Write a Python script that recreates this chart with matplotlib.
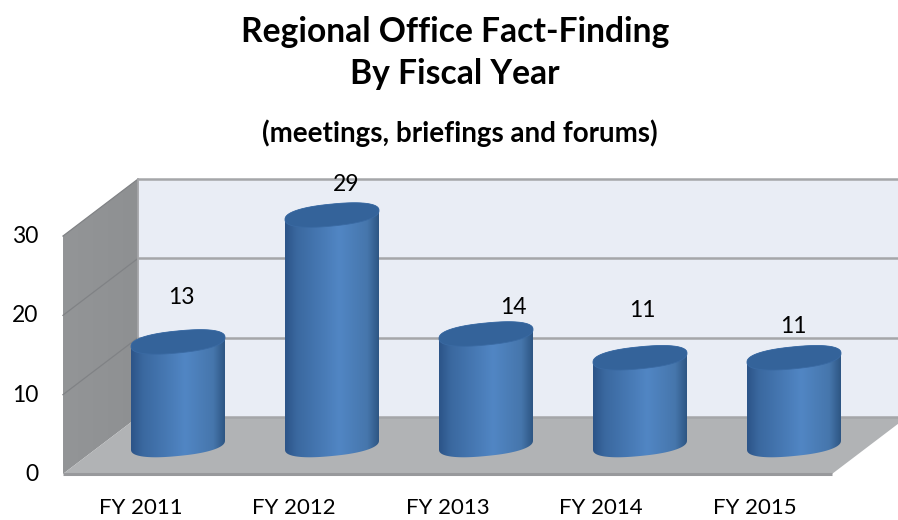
import numpy as np
import matplotlib
matplotlib.use("Agg")
import matplotlib.pyplot as plt
from matplotlib.colors import LinearSegmentedColormap
from matplotlib.patches import Polygon

plt.rcParams['font.family'] = ['Lato', 'DejaVu Sans']

# datos
years = ["FY 2011", "FY 2012", "FY 2013", "FY 2014", "FY 2015"]
values = [13, 29, 14, 11, 11]
ticks = [0, 10, 20, 30]

# ajuste a mano de cada etiqueta (pixeles desde el centro de la tapa)
label_dx = [3, 14, 27, 2, -1]
label_dy = [44, 31, 26, 47, 31]

W, H = 898, 520
PX_X = 154.0   # pixeles por categoria
PX_Y = 7.93    # pixeles por unidad

fig = plt.figure(figsize=(W / 100, H / 100), dpi=100)
ax = fig.add_axes([0, 0, 1, 1])
ax.axis('off')


# pasar pixeles de la imagen a unidades de los ejes
def px(x):
    return (x - 178) / PX_X


def py(y):
    return (445 - y) / PX_Y


# elipse un poco cuadrada, como las tapas del original
def round_cos(t):
    return np.sign(np.cos(t)) * np.abs(np.cos(t)) ** 0.85


def round_sin(t):
    return np.sign(np.sin(t)) * np.abs(np.sin(t)) ** 0.85


# caja 3d falsa, en unidades de los ejes
front_y = -3.65
back_y = 3.53
left_x = -0.747
right_x = 4.247
depth_x = 75 / PX_X
top = max(ticks)

# pared del fondo
ax.add_patch(Polygon([(left_x + depth_x, back_y), (right_x + depth_x, back_y),
                      (right_x + depth_x, back_y + top), (left_x + depth_x, back_y + top)],
                     fc='#E9EDF5', ec='none', zorder=1))

# pared izquierda con degradado
grey = LinearSegmentedColormap.from_list('grey', ['#939597', '#8E9092'])
im = ax.imshow(np.linspace(0, 1, 64).reshape(1, -1), cmap=grey, aspect='auto', zorder=2,
               extent=(left_x, left_x + depth_x, front_y, back_y + top))
wall = Polygon([(left_x, front_y), (left_x + depth_x, back_y), (left_x + depth_x, back_y + top),
                (left_x, front_y + top)], fc='none', ec='none', zorder=2)
ax.add_patch(wall)
im.set_clip_path(wall)

# piso
ax.add_patch(Polygon([(left_x, front_y), (left_x + depth_x, back_y), (right_x + depth_x, back_y),
                      (right_x, front_y)], fc='#B1B3B5', ec='none', zorder=3))

# grilla
for t in ticks:
    ax.plot([left_x + depth_x, right_x + depth_x], [back_y + t, back_y + t],
            color='#A5A6A9', lw=1.8, zorder=4, solid_capstyle='butt')
    if t > 0:
        ax.plot([left_x, left_x + depth_x], [front_y + t, back_y + t],
                color='#808285', lw=0.9, zorder=4)
    ax.text(px(38), front_y + t - 7 / PX_Y, str(t), fontsize=16.5, ha='right', va='baseline',
            color='black', zorder=8)
ax.plot([left_x + depth_x, left_x + depth_x], [back_y, back_y + top], color='#A5A6A9', lw=1.3, zorder=4)
ax.plot([left_x, right_x], [front_y, front_y], color='#98999C', lw=2.2, zorder=4, solid_capstyle='butt')

# cilindros
a = 47 / PX_X
b = 11 / PX_Y
s = 4.5 / PX_Y
blue = LinearSegmentedColormap.from_list('blue', [
    (0.0, '#2C5488'), (0.12, '#3A689F'), (0.58, '#5186C4'), (0.88, '#4676AC'), (1.0, '#2E5684')])
t_low = np.linspace(np.pi, 2 * np.pi, 60)
t_up = np.linspace(0, np.pi, 60)
t_all = np.linspace(0, 2 * np.pi, 120)

for i, v in enumerate(values):
    xb = i + a * round_cos(t_low)
    yb = b * round_sin(t_low) + s * round_cos(t_low)
    xt = i + a * round_cos(t_up)
    yt = v + b * round_sin(t_up) + s * round_cos(t_up)
    body = Polygon(np.column_stack([np.r_[xb, xt], np.r_[yb, yt]]), fc='none', ec='none', zorder=5)
    ax.add_patch(body)
    grad = ax.imshow(np.linspace(0, 1, 128).reshape(1, -1), cmap=blue, aspect='auto', zorder=5,
                     extent=(i - a, i + a, -3, v + 3))
    grad.set_clip_path(body)
    ax.add_patch(Polygon(np.column_stack([i + a * round_cos(t_all),
                                          v + b * round_sin(t_all) + s * round_cos(t_all)]),
                         fc='#34639A', ec='#3A6AA3', lw=0.6, zorder=6))
    ax.text(i + label_dx[i] / PX_X, v + label_dy[i] / PX_Y, str(v), fontsize=16.5,
            ha='center', va='center', color='black', zorder=8)
    # las etiquetas del eje no van centradas bajo los cilindros
    ax.text(px(140.5 + 153.5 * i), py(514), years[i], fontsize=16, ha='center', va='baseline',
            color='black', zorder=8)

# titulos
ax.text(px(455), py(42), "Regional Office Fact-Finding", fontsize=24.2,
        fontweight='bold', ha='center', va='baseline', color='black')
ax.text(px(455), py(84), "By Fiscal Year", fontsize=24.2,
        fontweight='bold', ha='center', va='baseline', color='black')
ax.text(px(460), py(142), "(meetings, briefings and forums)", fontsize=20,
        fontweight='bold', ha='center', va='baseline', color='black')

ax.set_xlim(-178 / PX_X, (W - 178) / PX_X)
ax.set_ylim((445 - H) / PX_Y, 445 / PX_Y)

fig.savefig("out.png", dpi=100)
